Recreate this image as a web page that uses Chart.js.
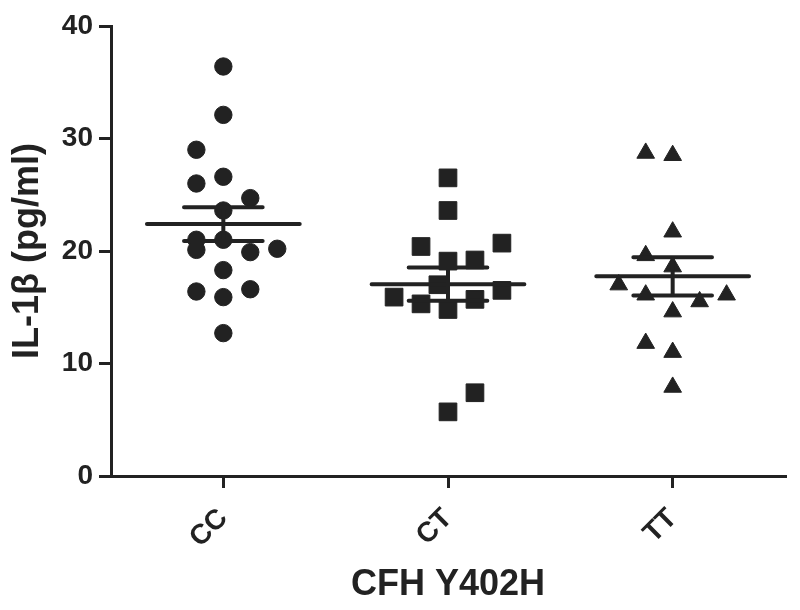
<!DOCTYPE html>
<html>
<head>
<meta charset="utf-8">
<title>IL-1β by CFH Y402H</title>
<script src="https://cdn.jsdelivr.net/npm/chart.js@4.4.1/dist/chart.umd.min.js"></script>
<style>
    html, body { margin: 0; padding: 0; background: #fff; }
    #wrap { width: 800px; height: 610px; }
</style>
</head>
<body>
<div id="wrap"><canvas id="dotChart"></canvas></div>
<script>
// genotype groups on the x axis
const groups = ['CC', 'CT', 'TT'];

// IL-1β values (pg/ml) and the small sideways offsets of each dot in its column
const ccValues  = [36.4, 32.1, 29.0, 26.0, 26.6, 24.7, 23.6, 21.0, 21.0, 20.1, 19.9, 20.2, 18.3, 16.4, 15.9, 16.6, 12.7];
const ccOffsets = [0, 0, -0.12, -0.12, 0, 0.12, 0, -0.12, 0, -0.12, 0.12, 0.24, 0, -0.12, 0, 0.12, 0];

const ctValues  = [26.5, 23.6, 20.4, 20.7, 19.1, 19.2, 17.0, 15.9, 16.5, 15.3, 15.7, 14.8, 7.4, 5.7];
const ctOffsets = [0, 0, -0.12, 0.24, 0, 0.12, -0.045, -0.24, 0.24, -0.12, 0.12, 0, 0.12, 0];

const ttValues  = [28.7, 28.5, 21.7, 19.6, 18.6, 17.0, 16.1, 15.5, 16.1, 14.6, 11.8, 11.0, 7.9];
const ttOffsets = [-0.12, 0, 0, -0.12, 0, -0.24, -0.12, 0.12, 0.24, 0, -0.12, 0, 0];

// group mean and SEM
const means = [22.4, 17.05, 17.75];
const sems  = [1.5, 1.48, 1.7];

// y axis ticks
const yTicks = [0, 10, 20, 30, 40];

const ink = '#222222';
const fontFamily = "'Liberation Sans', Arial, sans-serif";
Chart.defaults.font.family = fontFamily;

function toPoints(groupIndex, values, offsets) {
    return values.map((v, i) => ({ x: groupIndex + 1 + offsets[i], y: v }));
}

// mean line plus error bar, as line segments split by gaps
function meanSegments(i) {
    const c = i + 1;
    const m = means[i];
    const s = sems[i];
    const half = 0.34;
    const cap = 0.175;
    return [
        { x: c - half, y: m }, { x: c + half, y: m }, { x: c, y: null },
        { x: c - cap, y: m + s }, { x: c + cap, y: m + s }, { x: c, y: null },
        { x: c, y: m + s }, { x: c, y: m - s }, { x: c, y: null },
        { x: c - cap, y: m - s }, { x: c + cap, y: m - s }
    ];
}

function dotSet(data, style, radius) {
    return {
        data: data,
        pointStyle: style,
        pointRadius: radius,
        pointBackgroundColor: ink,
        pointBorderColor: ink,
        pointBorderWidth: 1,
        showLine: false
    };
}

function lineSet(data) {
    return {
        data: data,
        showLine: true,
        spanGaps: false,
        borderColor: ink,
        borderWidth: 4,
        borderCapStyle: 'round',
        pointRadius: 0
    };
}

const ctx = document.getElementById('dotChart').getContext('2d');

new Chart(ctx, {
    type: 'scatter',
    data: {
        datasets: [
            lineSet(meanSegments(0)),
            lineSet(meanSegments(1)),
            lineSet(meanSegments(2)),
            dotSet(toPoints(0, ccValues, ccOffsets), 'circle', 8.7),
            dotSet(toPoints(1, ctValues, ctOffsets), 'rect', 12.5),
            dotSet(toPoints(2, ttValues, ttOffsets), 'triangle', 10.2)
        ]
    },
    options: {
        responsive: true,
        maintainAspectRatio: false,
        animation: false,
        events: [],
        layout: {
            padding: { top: 26, right: 15, bottom: 0, left: 0 }
        },
        plugins: {
            legend: { display: false },
            tooltip: { enabled: false }
        },
        scales: {
            x: {
                type: 'linear',
                min: 0.5,
                max: 3.5,
                afterBuildTicks: (scale) => {
                    scale.ticks = groups.map((g, i) => ({ value: i + 1 }));
                },
                afterFit: (scale) => {
                    scale.height = 134;
                },
                ticks: {
                    callback: (value, index) => groups[index],
                    minRotation: 45,
                    maxRotation: 45,
                    padding: 14,
                    color: ink,
                    font: { size: 28, weight: 'bold' }
                },
                grid: {
                    drawOnChartArea: false,
                    drawTicks: true,
                    tickLength: 12,
                    lineWidth: 3,
                    color: ink
                },
                border: { display: true, width: 3, color: ink },
                title: {
                    display: true,
                    text: 'CFH Y402H',
                    color: ink,
                    font: { size: 36, weight: 'bold' },
                    padding: { top: 0, bottom: 3 }
                }
            },
            y: {
                min: 0,
                max: 40,
                afterBuildTicks: (scale) => {
                    scale.ticks = yTicks.map(v => ({ value: v }));
                },
                afterFit: (scale) => {
                    scale.width = 111;
                },
                ticks: {
                    padding: 6,
                    color: ink,
                    font: { size: 28, weight: 'bold' }
                },
                grid: {
                    drawOnChartArea: false,
                    drawTicks: true,
                    tickLength: 12,
                    lineWidth: 3,
                    color: ink
                },
                border: { display: true, width: 3, color: ink },
                title: {
                    display: true,
                    text: 'IL-1β (pg/ml)',
                    color: ink,
                    font: { size: 36, weight: 'bold' },
                    padding: { top: 6, bottom: 0 }
                }
            }
        }
    }
});
</script>
</body>
</html>
